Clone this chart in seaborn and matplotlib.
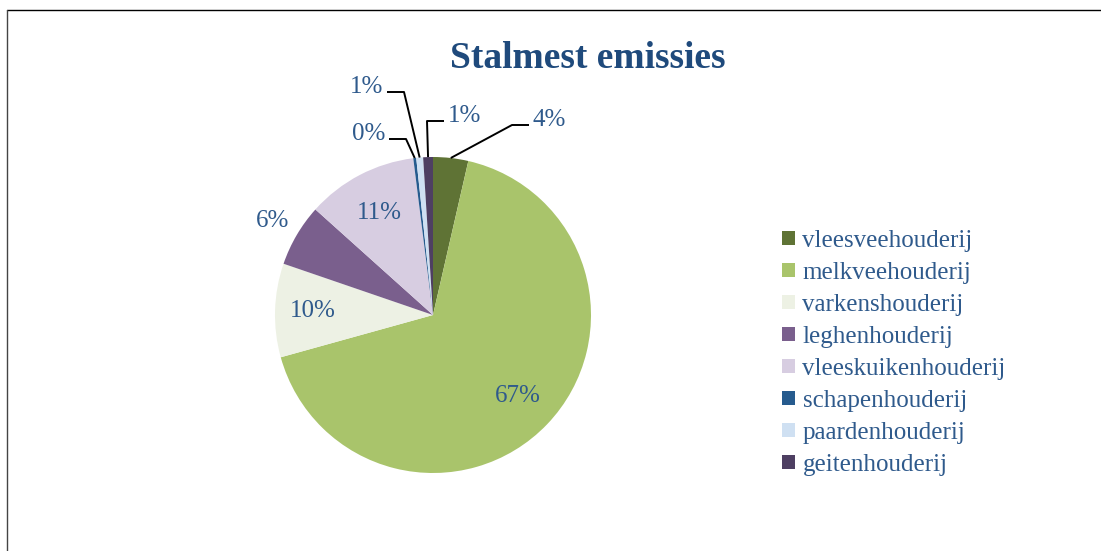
import numpy as np
import matplotlib
matplotlib.use("Agg")
import matplotlib.pyplot as plt
from matplotlib.lines import Line2D
import seaborn as sns

# aandeel per sector (%)
categorieen = ["vleesveehouderij", "melkveehouderij", "varkenshouderij", "leghenhouderij",
               "vleeskuikenhouderij", "schapenhouderij", "paardenhouderij", "geitenhouderij"]
aandeel = [3.6, 67.3, 9.6, 6.4, 11.4, 0.3, 0.7, 1.0]
kleuren = ["#5F7335", "#A9C46B", "#EDF1E4", "#7A5F8D", "#D7CDE1", "#265B8E", "#CFE0F2", "#4E3F62"]

TEKST = "#2F5A8C"
TITEL = "#1F4A7C"

sns.set_theme(style="white")
plt.rcParams["font.family"] = ["Liberation Serif", "DejaVu Serif"]

W, H = 1101, 551
fig = plt.figure(figsize=(W / 100, H / 100), dpi=100)
# taart: middelpunt (433, 315) px, straal 158 px
CX, CY, R = 433, 315, 158
ax = fig.add_axes([0, 0, 1, 1])
wedges, _ = ax.pie(aandeel, colors=sns.color_palette(kleuren), startangle=90,
                   counterclock=False, radius=1, center=(0, 0),
                   wedgeprops=dict(linewidth=0))
ax.set_xlim(-CX / R, (W - CX) / R)
ax.set_ylim(-(H - CY) / R, CY / R)
ax.axis("off")

pct = np.array(aandeel) / np.sum(aandeel) * 100


def px(x, y):
    return (x - CX) / R, (CY - y) / R


def mid(w, r):
    a = np.deg2rad((w.theta1 + w.theta2) / 2)
    return r * np.cos(a), r * np.sin(a)


fs = 18
# labels in de taart
for i, r in [(1, 0.74), (2, 0.76), (4, 0.73), (3, 1.18)]:
    x, y = mid(wedges[i], r)
    ax.text(x, y, f"{pct[i]:.0f}%", color=TEKST, fontsize=fs, ha="center", va="center")

# kleine sectoren met verbindingslijn
buiten = [(0, 533, 120, "left"), (7, 448, 116, "left"),
          (5, 385, 134, "right"), (6, 383, 87, "right")]
gap, seg = 4 / R, 17 / R
for i, tx, ty, ha in buiten:
    x, y = px(tx, ty)
    ax.text(x, y, f"{pct[i]:.0f}%", color=TEKST, fontsize=fs, ha=ha, va="center")
    s = 1 if ha == "left" else -1
    ly = y - 5 / R
    ex, ey = x - s * gap, ly
    bx = ex - s * seg
    wx, wy = mid(wedges[i], 1.0)
    ax.plot([wx, bx, ex], [wy, ly, ly], color="black", lw=1.4, solid_capstyle="butt")

fig.text(588 / W, 1 - 59 / H, "Stalmest emissies", fontsize=27, fontweight="bold",
         color=TITEL, ha="center", va="center")

fig.legend(wedges, categorieen, loc="upper left", bbox_to_anchor=(782 / W, 1 - 230 / H),
           frameon=False, fontsize=18, labelcolor=TEKST, handlelength=0.52, handleheight=0.52,
           handletextpad=0.3, labelspacing=0.4, borderpad=0, borderaxespad=0)

# kader
fig.add_artist(Line2D([7 / W, 1], [1 - 10 / H, 1 - 10 / H], color="black", lw=1))
fig.add_artist(Line2D([7 / W, 7 / W], [0, 1 - 10 / H], color="#444444", lw=1))

fig.savefig("out.png", dpi=100)
